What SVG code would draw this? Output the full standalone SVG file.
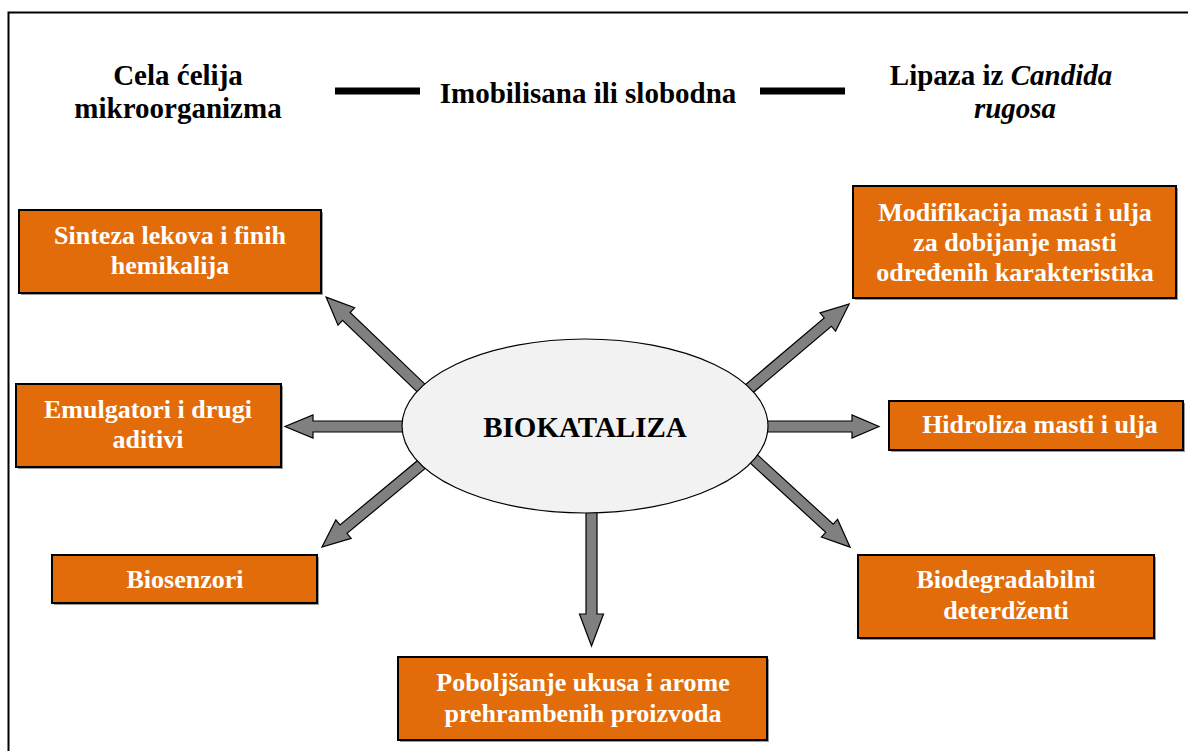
<svg xmlns="http://www.w3.org/2000/svg" width="1188" height="751" viewBox="0 0 1188 751">
<style>
.top{font-family:'Liberation Serif','DejaVu Serif',serif;font-weight:bold;font-size:29px;fill:#000;text-anchor:middle}
.bt{font-family:'Liberation Serif','DejaVu Serif',serif;font-weight:bold;font-size:26px;fill:#fff;text-anchor:middle}
.box{fill:#E36C0A;stroke:#000;stroke-width:2}
.sh{fill:#9a9a9a}
.arr{fill:#808080;stroke:#000;stroke-width:1.2;stroke-linejoin:miter}
</style>
<rect x="0" y="0" width="1188" height="751" fill="#fff"/>
<rect x="8.5" y="12.5" width="1200" height="800" fill="none" stroke="#000" stroke-width="2"/>
<g id="header" font-family="Liberation Serif, DejaVu Serif, serif">
<text class="top" x="178" y="85">Cela ćelija</text>
<text class="top" x="178" y="118">mikroorganizma</text>
<line x1="335" y1="91" x2="420" y2="91" stroke="#000" stroke-width="7"/>
<text class="top" x="588" y="103">Imobilisana ili slobodna</text>
<line x1="760" y1="91" x2="845" y2="91" stroke="#000" stroke-width="7"/>
<text class="top" x="1001" y="85">Lipaza iz <tspan font-style="italic">Candida</tspan></text>
<text class="top" x="1015" y="118" font-style="italic">rugosa</text>
</g>
<g id="connectors">
<path class="arr" transform="translate(420,387) rotate(-136.25)" d="M-6,-5.5 L102,-5.5 L102,-12 L130,0 L102,12 L102,5.5 L-6,5.5 Z"/>
<path class="arr" transform="translate(401,426.5) rotate(180)" d="M-6,-5.5 L88,-5.5 L88,-11.5 L116,0 L88,11.5 L88,5.5 L-6,5.5 Z"/>
<path class="arr" transform="translate(422,464) rotate(140.3)" d="M-6,-5.5 L102,-5.5 L102,-12 L130,0 L102,12 L102,5.5 L-6,5.5 Z"/>
<path class="arr" transform="translate(591.5,517) rotate(90)" d="M-6,-5.5 L97,-5.5 L97,-12 L129,0 L97,12 L97,5.5 L-6,5.5 Z"/>
<path class="arr" transform="translate(750,388) rotate(-40.3)" d="M-6,-5.5 L102,-5.5 L102,-12 L130,0 L102,12 L102,5.5 L-6,5.5 Z"/>
<path class="arr" transform="translate(767,426.5) rotate(0)" d="M-6,-5.5 L85,-5.5 L85,-11.5 L112,0 L85,11.5 L85,5.5 L-6,5.5 Z"/>
<path class="arr" transform="translate(755,460) rotate(42.5)" d="M-6,-5.5 L101,-5.5 L101,-12 L129,0 L101,12 L101,5.5 L-6,5.5 Z"/>
</g>
<g id="biokataliza">
<ellipse cx="585" cy="426" rx="183" ry="87" fill="#F2F2F2" stroke="#000" stroke-width="1.2"/>
<text class="top" x="585" y="437">BIOKATALIZA</text>
</g>
<g id="sinteza">
<rect class="sh" x="21" y="212" width="302" height="83"/>
<rect class="box" x="19" y="210" width="302" height="83"/>
<text class="bt" x="170" y="244">Sinteza lekova i finih</text>
<text class="bt" x="170" y="274">hemikalija</text>
</g>
<g id="emulgatori">
<rect class="sh" x="18" y="386" width="265" height="83"/>
<rect class="box" x="16" y="384" width="265" height="83"/>
<text class="bt" x="148" y="418">Emulgatori i drugi</text>
<text class="bt" x="148" y="448">aditivi</text>
</g>
<g id="biosenzori">
<rect class="sh" x="54" y="557" width="265" height="48"/>
<rect class="box" x="52" y="555" width="265" height="48"/>
<text class="bt" x="185" y="588">Biosenzori</text>
</g>
<g id="poboljsanje">
<rect class="sh" x="400" y="659" width="369" height="83"/>
<rect class="box" x="398" y="657" width="369" height="83"/>
<text class="bt" x="583" y="691">Poboljšanje ukusa i arome</text>
<text class="bt" x="583" y="722">prehrambenih proizvoda</text>
</g>
<g id="modifikacija">
<rect class="sh" x="855" y="188" width="323" height="112"/>
<rect class="box" x="853" y="186" width="323" height="112"/>
<text class="bt" x="1015" y="221">Modifikacija masti i ulja</text>
<text class="bt" x="1015" y="251">za dobijanje masti</text>
<text class="bt" x="1015" y="281">određenih karakteristika</text>
</g>
<g id="hidroliza">
<rect class="sh" x="891" y="403" width="294" height="49"/>
<rect class="box" x="889" y="401" width="294" height="49"/>
<text class="bt" x="1040" y="433">Hidroliza masti i ulja</text>
</g>
<g id="biodegradabilni">
<rect class="sh" x="860" y="557" width="296" height="83"/>
<rect class="box" x="858" y="555" width="296" height="83"/>
<text class="bt" x="1006" y="588">Biodegradabilni</text>
<text class="bt" x="1006" y="619">deterdženti</text>
</g>
</svg>
